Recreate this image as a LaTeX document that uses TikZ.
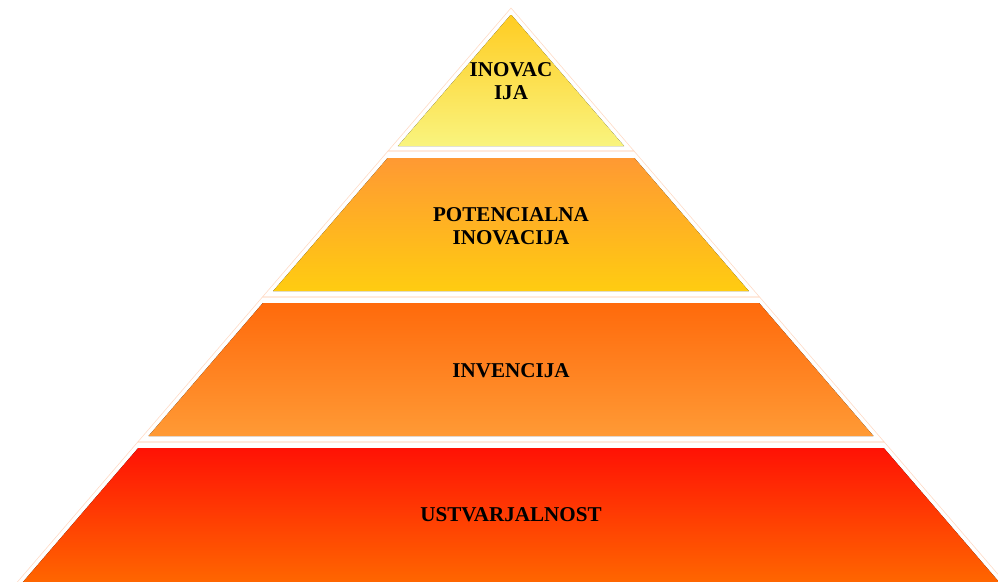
\documentclass[tikz,border=0pt]{standalone}
\usepackage{fontspec}
\setmainfont{Liberation Serif}

\definecolor{edgeline}{RGB}{255,218,196}
\definecolor{goldtop}{RGB}{255,204,34}
\definecolor{paleyellow}{RGB}{249,244,126}
\definecolor{lightorange}{RGB}{255,153,51}
\definecolor{gold}{RGB}{255,204,17}
\definecolor{darkorange}{RGB}{255,106,12}
\definecolor{midorange}{RGB}{255,154,53}
\definecolor{brightred}{RGB}{255,18,5}
\definecolor{deeporange}{RGB}{255,102,0}

\newcommand\DrawBand[2]{% faint outline of one band
  \pgfmathsetmacro\wt{\slope*(#1-\apexy)}
  \pgfmathsetmacro\wb{\slope*(#2-\apexy)}
  \draw[bandline] (\cx-\wt,#1) -- (\cx+\wt,#1) -- (\cx+\wb,#2) -- (\cx-\wb,#2) -- cycle;
}
\newcommand\FillLevel[4]{% top y, bottom y, top colour, bottom colour
  \pgfmathsetmacro\wt{max(\slope*(#1-\apexy)-\inset,0)}
  \pgfmathsetmacro\wb{\slope*(#2-\apexy)-\inset}
  \fill[top color=#3, bottom color=#4] (\cx-\wt,#1) -- (\cx+\wt,#1) -- (\cx+\wb,#2) -- (\cx-\wb,#2) -- cycle;
}

\begin{document}
\begin{tikzpicture}[x=0.03cm,y=-0.03cm,
  bandline/.style={draw=edgeline, line width=0.5pt},
  lbl/.style={font=\bfseries\fontsize{18}{19.5}\selectfont, align=center, inner sep=0pt}]

%% some definitions
\def\cx{511} % axis of the pyramid
\def\apexy{8} % outer apex
\def\slope{0.86} % half width per unit of height
\def\inset{5.6} % white gap inside each band

\clip (0,0) rectangle (998,581);

%% outer outlines
\DrawBand{8}{151}
\DrawBand{151}{297}
\DrawBand{297}{442}
\DrawBand{442}{588}

%% filled levels
\FillLevel{15}{146}{goldtop}{paleyellow}
\FillLevel{158}{291}{lightorange}{gold}
\FillLevel{303}{436}{darkorange}{midorange}
\FillLevel{448}{582}{brightred}{deeporange}

%% labels
\node[lbl] (inovacija) at (511,81) {INOVAC\\IJA};
\node[lbl] (potencialna) at (511,226) {POTENCIALNA\\INOVACIJA};
\node[lbl] (invencija) at (511,371) {INVENCIJA};
\node[lbl] (ustvarjalnost) at (511,515) {USTVARJALNOST};

\end{tikzpicture}
\end{document}
